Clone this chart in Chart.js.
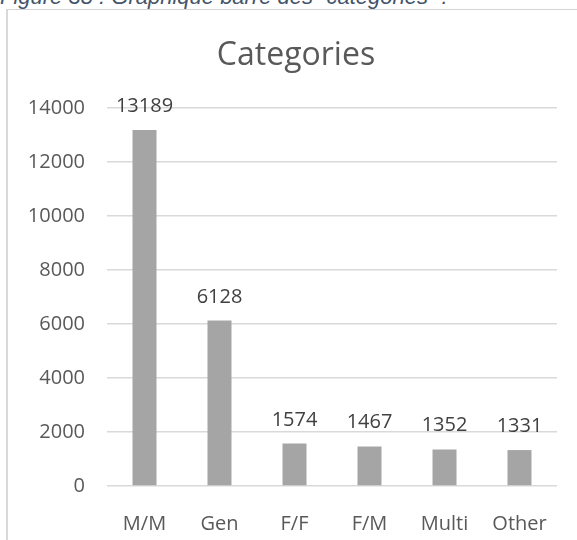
<!DOCTYPE html>
<html>
<head>
<meta charset="utf-8">
<script src="https://cdn.jsdelivr.net/npm/chart.js@4"></script>
<style>
  body { margin: 0; background: #fff; overflow: hidden; }
  #page { position: relative; width: 577px; height: 540px; overflow: hidden; }
  #caption {
    position: absolute; left: 0; top: -14px; white-space: nowrap;
    font: italic 22px/22px "Liberation Sans", sans-serif; color: #44546A;
  }
  #frame {
    position: absolute; left: 6px; top: 9px; width: 640px; height: 600px;
    border-left: 2px solid #d9d9d9; border-top: 1px solid #d4d4d4;
  }
  #chart { position: absolute; left: 0; top: 0; }
</style>
</head>
<body>
<div id="page">
  <div id="caption">Figure 38 : Graphique barre des “catégories” :</div>
  <div id="frame"></div>
  <canvas id="chart" width="577" height="540"></canvas>
</div>
<script>
const categories = ['M/M', 'Gen', 'F/F', 'F/M', 'Multi', 'Other'];
const counts = [13189, 6128, 1574, 1467, 1352, 1331];
const yTicks = [0, 2000, 4000, 6000, 8000, 10000, 12000, 14000];
const chartTitle = 'Categories';

const FONT = '"Open Sans", sans-serif';

// values written above each bar, like Excel's data labels
const barLabels = {
  id: 'barLabels',
  afterDatasetsDraw(chart) {
    const ctx = chart.ctx;
    const meta = chart.getDatasetMeta(0);
    ctx.save();
    ctx.font = '20px ' + FONT;
    ctx.fillStyle = '#404040';
    ctx.textAlign = 'center';
    ctx.textBaseline = 'alphabetic';
    meta.data.forEach((bar, i) => {
      ctx.fillText(String(counts[i]), bar.x, bar.y - 18);
    });
    ctx.restore();
  }
};

// Excel centres the title on the whole frame, not on the plot, so draw it here
const frameTitle = {
  id: 'frameTitle',
  afterDraw(chart) {
    const ctx = chart.ctx;
    ctx.save();
    ctx.font = '32px ' + FONT;
    ctx.fillStyle = '#595959';
    ctx.textAlign = 'center';
    ctx.textBaseline = 'alphabetic';
    ctx.fillText(chartTitle, 296, 65);
    ctx.restore();
  }
};

new Chart(document.getElementById('chart').getContext('2d'), {
  type: 'bar',
  data: {
    labels: categories,
    datasets: [{
      label: chartTitle,
      data: counts,
      backgroundColor: '#a5a5a5',
      borderWidth: 0,
      categoryPercentage: 1,
      barPercentage: 0.32
    }]
  },
  options: {
    responsive: false,
    animation: false,
    devicePixelRatio: 1,
    layout: { padding: { left: 0, right: 20, top: 108, bottom: 0 } },
    plugins: {
      legend: { display: false },
      tooltip: { enabled: false },
      title: { display: false }
    },
    scales: {
      x: {
        grid: { display: false },
        border: { display: false },
        ticks: { color: '#595959', font: { family: FONT, size: 20 }, padding: 18, maxRotation: 0 },
        afterFit(scale) { scale.height = 54; }
      },
      y: {
        min: 0,
        max: 14000,
        grid: { color: '#d9d9d9', lineWidth: 1.5, drawTicks: false },
        border: { display: false },
        afterBuildTicks(scale) { scale.ticks = yTicks.map(v => ({ value: v })); },
        ticks: {
          color: '#595959',
          font: { family: FONT, size: 20 },
          padding: 22,
          callback: v => String(v)
        },
        afterFit(scale) { scale.width = 107; }
      }
    }
  },
  plugins: [barLabels, frameTitle]
});
</script>
</body>
</html>
